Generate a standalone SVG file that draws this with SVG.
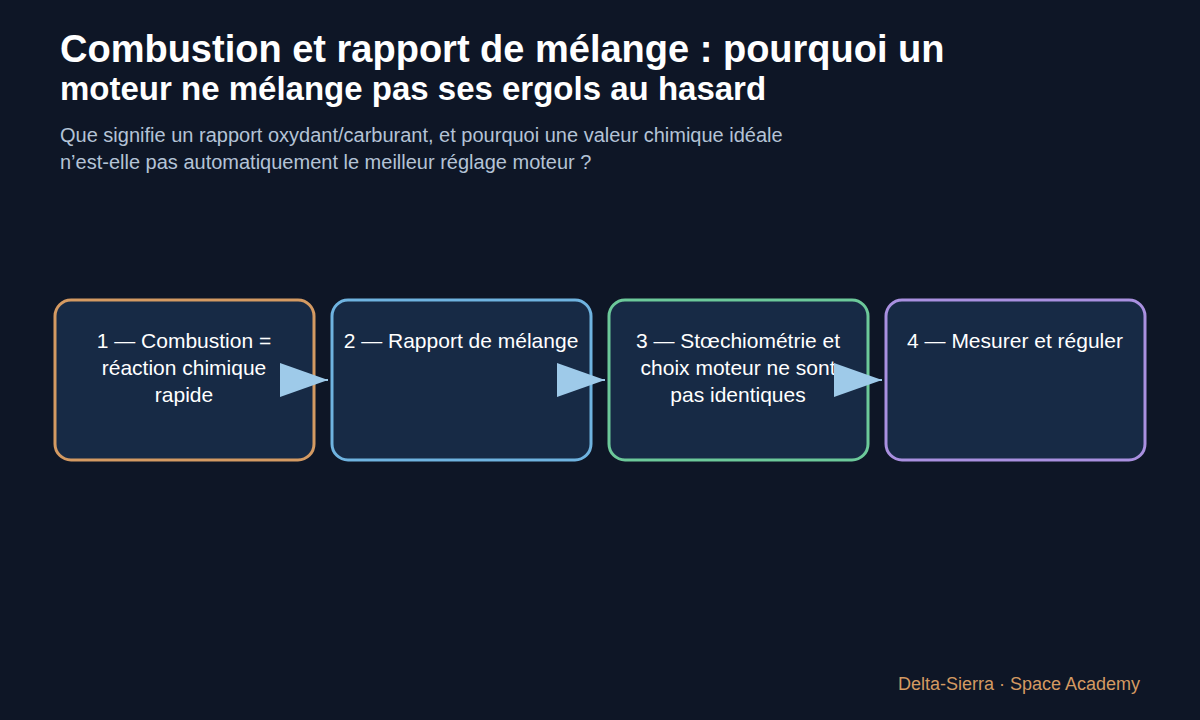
<svg xmlns="http://www.w3.org/2000/svg" width="1200" height="720" viewBox="0 0 1200 720">
<style>
text{font-family:"Liberation Sans",Arial,sans-serif}
.t{fill:#fff;font-weight:bold}
.s{fill:#b4c3d6;font-size:20px}
.n{fill:#172a45;stroke-width:3}
.l{fill:#fff;font-size:21px;text-anchor:middle}
.c{stroke:#9ecae9;stroke-width:2}
</style>
<defs><marker id="a" markerUnits="userSpaceOnUse" markerWidth="50" markerHeight="34" refX="48" refY="17" orient="auto"><polygon points="0,0 48,17 0,34" fill="#9ecae9"/></marker></defs>
<rect width="1200" height="720" fill="#0e1626"/>
<text class="t" x="60" y="62" font-size="38">Combustion et rapport de mélange : pourquoi un</text>
<text class="t" x="60" y="100" font-size="33">moteur ne mélange pas ses ergols au hasard</text>
<text class="s" x="60" y="142">Que signifie un rapport oxydant/carburant, et pourquoi une valeur chimique idéale</text>
<text class="s" x="60" y="169">n’est-elle pas automatiquement le meilleur réglage moteur ?</text>
<g id="n1"><rect class="n" x="55" y="300" width="259" height="160" rx="16" stroke="#d49a62"/><text class="l" x="184" y="348">1 — Combustion =</text><text class="l" x="184" y="375">réaction chimique</text><text class="l" x="184" y="402">rapide</text></g>
<g id="n2"><rect class="n" x="332" y="300" width="259" height="160" rx="16" stroke="#6fb3e0"/><text class="l" x="461" y="348">2 — Rapport de mélange</text></g>
<g id="n3"><rect class="n" x="609" y="300" width="259" height="160" rx="16" stroke="#6cc99a"/><text class="l" x="738" y="348">3 — Stœchiométrie et</text><text class="l" x="738" y="375">choix moteur ne sont</text><text class="l" x="738" y="402">pas identiques</text></g>
<g id="n4"><rect class="n" x="886" y="300" width="259" height="160" rx="16" stroke="#a990e0"/><text class="l" x="1015" y="348">4 — Mesurer et réguler</text></g>
<g id="connectors">
<line class="c" x1="300" y1="380" x2="328" y2="380" marker-end="url(#a)"/>
<line class="c" x1="577" y1="380" x2="605" y2="380" marker-end="url(#a)"/>
<line class="c" x1="854" y1="380" x2="882" y2="380" marker-end="url(#a)"/>
</g>
<text x="1140" y="690" font-size="18" fill="#d49a62" text-anchor="end">Delta-Sierra · Space Academy</text>
</svg>
